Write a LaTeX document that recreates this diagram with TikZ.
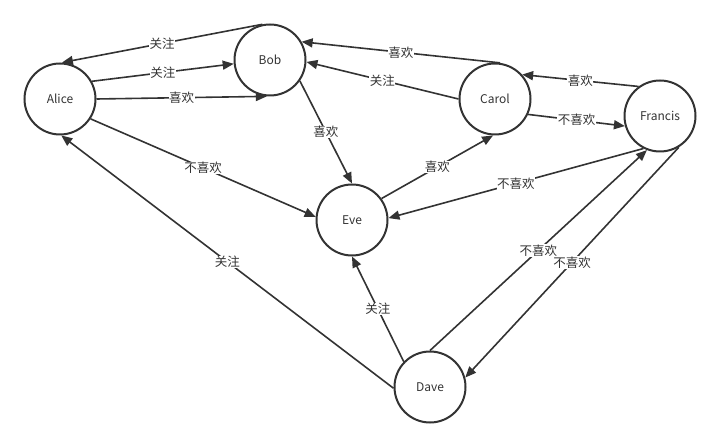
\documentclass[tikz,border=0pt]{standalone}
\usepackage{fontspec}
\setmainfont{Noto Sans CJK SC}
\usepackage{tikz}
\usetikzlibrary{arrows.meta}
\definecolor{ink}{HTML}{333333}

\begin{document}
\begin{tikzpicture}[x=1pt,y=-1pt,
  person/.style={circle,draw=ink,line width=2pt,minimum size=71pt,inner sep=0pt,text=ink,font=\fontsize{12}{14}\selectfont},
  rel/.style={draw=ink,line width=1.6pt,-{Triangle[length=11pt,width=9pt]}},
  lbl/.style={fill=white,inner sep=0.5pt,text=ink,font=\fontsize{12.5}{14}\selectfont}]
\useasboundingbox (0,0) rectangle (720,446);
\node[person] (alice) at (60,99) {Alice};
\node[person] (bob) at (270,60) {Bob};
\node[person] (carol) at (495,99) {Carol};
\node[person] (francis) at (660,116) {Francis};
\node[person] (eve) at (352,220) {Eve};
\node[person] (dave) at (430,387) {Dave};
\draw[rel] (bob.102) -- node[lbl] {关注} (alice.87);
\draw[rel] (alice.29) -- node[lbl] {关注} (bob.186);
\draw[rel] (alice.0) -- node[lbl] {喜欢} (bob.265);
\draw[rel] (alice.327) -- node[lbl] {不喜欢} (eve.175);
\draw[rel] (dave.182) -- node[lbl] {关注} (alice.272);
\draw[rel] (bob.325) -- node[lbl] {喜欢} (eve.90);
\draw[rel] (carol.82) -- node[lbl] {喜欢} (bob.30);
\draw[rel] (carol.180) -- node[lbl] {关注} (bob.357);
\draw[rel] (francis.126) -- node[lbl] {喜欢} (carol.42);
\draw[rel] (carol.335) -- node[lbl] {不喜欢} (francis.196);
\draw[rel] (eve.36) -- node[lbl] {喜欢} (carol.267);
\draw[rel] (francis.243) -- node[lbl] {不喜欢} (eve.3);
\draw[rel] (dave.90) -- node[lbl] {不喜欢} (francis.249);
\draw[rel] (francis.301) -- node[lbl] {不喜欢} (dave.15);
\draw[rel] (dave.136) -- node[lbl] {关注} (eve.270);
\end{tikzpicture}
\end{document}
